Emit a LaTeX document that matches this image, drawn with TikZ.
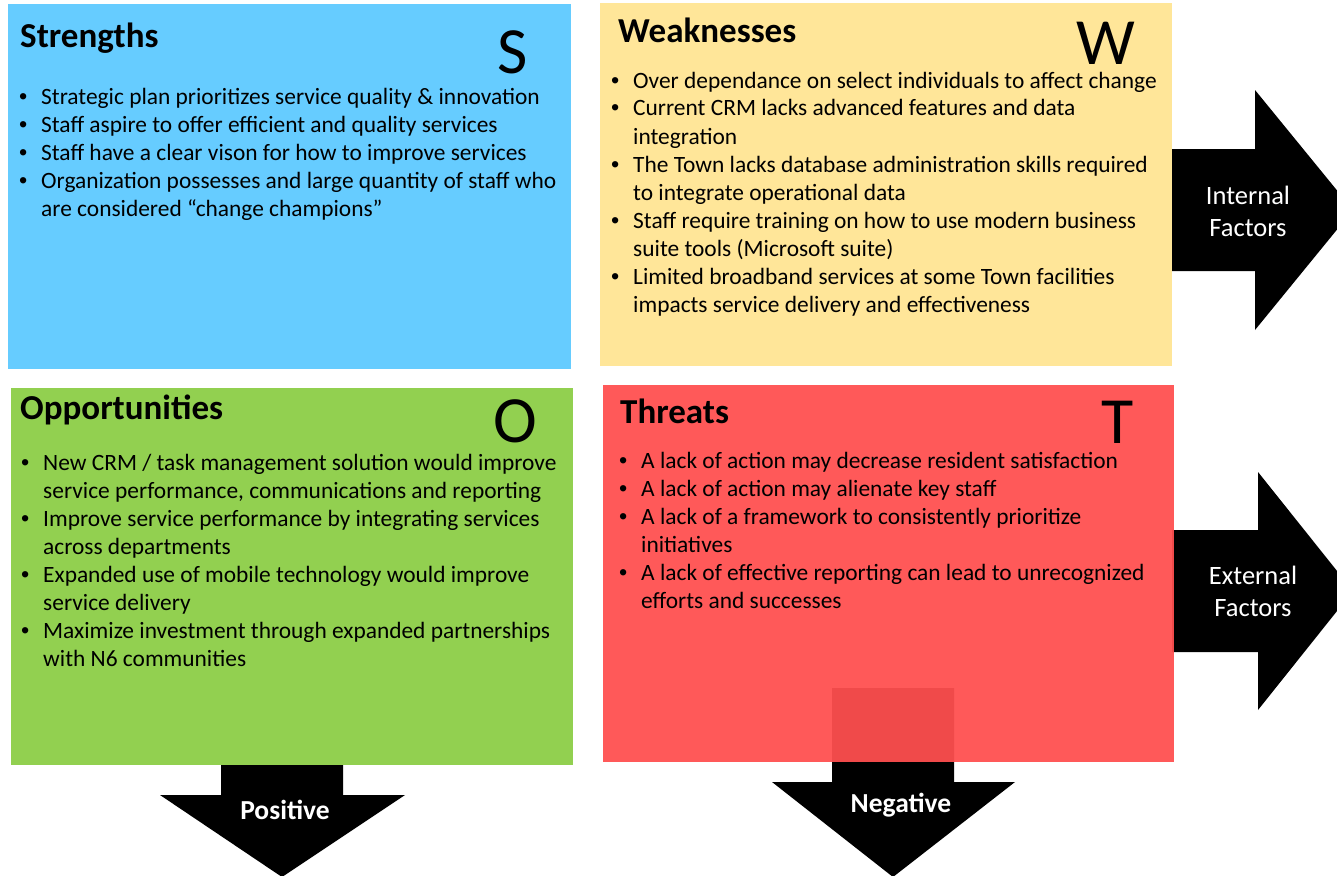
\documentclass[tikz,border=0pt]{standalone}
\usepackage{fontspec}
\setmainfont{Carlito}
\newfontfamily\bulletfont{Liberation Sans}
\usepackage{array}
\definecolor{sblue}{RGB}{102,204,255}
\definecolor{wyellow}{RGB}{255,230,153}
\definecolor{ogreen}{RGB}{146,208,80}
\definecolor{tred}{RGB}{255,79,79}
\newcommand{\itemrows}[1]{\begin{tabular}[t]{@{}p{22pt}@{}l@{}}#1\end{tabular}}
\newcommand{\bul}{{\bulletfont •}}
\begin{document}
\begin{tikzpicture}[x=1pt,y=-1pt,
  quad/.style={inner sep=0, outer sep=0, anchor=north west, draw=none},
  title/.style={inner sep=0, anchor=base west, font=\fontsize{35}{38}\selectfont\bfseries},
  letter/.style={inner sep=0, anchor=base, text height=42pt, text depth=0pt, font=\fontsize{66}{70}\selectfont},
  items/.style={inner sep=0, anchor=base west, font=\fontsize{23.4}{28}\selectfont},
  bigarrow/.style={fill=black},
  factor/.style={inner sep=0, align=center, text=white, font=\fontsize{26.5}{32}\selectfont},
  direction/.style={inner sep=0, text=white, font=\fontsize{27.5}{30}\selectfont\bfseries}
]
\useasboundingbox (0,0) rectangle (1337,875);

% direction arrows (behind the quadrants)
\fill[bigarrow] (1172,149) -- (1255,149) -- (1255,90) -- (1353,210) -- (1255,330) -- (1255,271) -- (1172,271) -- cycle;
\fill[bigarrow] (1172,530) -- (1258,530) -- (1258,472) -- (1353,591) -- (1258,710) -- (1258,652) -- (1172,652) -- cycle;
\fill[bigarrow] (221,760) -- (343,760) -- (343,795) -- (405,795) -- (282,877) -- (160,795) -- (221,795) -- cycle;
\fill[bigarrow] (832,688) -- (954,688) -- (954,782) -- (1015,782) -- (893,877) -- (772,782) -- (832,782) -- cycle;

% quadrants
\node[quad, fill=sblue, minimum width=563pt, minimum height=365pt] (sbox) at (8,4) {};
\node[quad, fill=wyellow, minimum width=572pt, minimum height=363pt] (wbox) at (600,3) {};
\node[quad, fill=ogreen, minimum width=562pt, minimum height=377pt] (obox) at (11,388) {};
\node[quad, fill=tred, fill opacity=0.94, minimum width=571pt, minimum height=377pt] (tbox) at (603,385) {};

% titles
\node[title] (stitle) at (20,48) {Strengths};
\node[title] (wtitle) at (618,43) {Weaknesses};
\node[title] (otitle) at (20,419) {Opportunities};
\node[title] (ttitle) at (620,423) {Threats};

% quadrant letters
\node[letter] (sletter) at (513,74) {S};
\node[letter] (wletter) at (1106,64) {W};
\node[letter] (oletter) at (515,442) {O};
\node[letter] (tletter) at (1118,443) {T};

% bullet lists
\node[items] (sitems) at (19,104) {\itemrows{
  \bul & Strategic plan prioritizes service quality \& innovation\\
  \bul & Staff aspire to offer efficient and quality services\\
  \bul & Staff have a clear vison for how to improve services\\
  \bul & Organization possesses and large quantity of staff who\\
       & are considered “change champions”}};

\node[items] (witems) at (611,88) {\itemrows{
  \bul & Over dependance on select individuals to affect change\\
  \bul & Current CRM lacks advanced features and data\\
       & integration\\
  \bul & The Town lacks database administration skills required\\
       & to integrate operational data\\
  \bul & Staff require training on how to use modern business\\
       & suite tools (Microsoft suite)\\
  \bul & Limited broadband services at some Town facilities\\
       & impacts service delivery and effectiveness}};

\node[items] (oitems) at (21,470) {\itemrows{
  \bul & New CRM / task management solution would improve\\
       & service performance, communications and reporting\\
  \bul & Improve service performance by integrating services\\
       & across departments\\
  \bul & Expanded use of mobile technology would improve\\
       & service delivery\\
  \bul & Maximize investment through expanded partnerships\\
       & with N6 communities}};

\node[items] (titems) at (619,468) {\itemrows{
  \bul & A lack of action may decrease resident satisfaction\\
  \bul & A lack of action may alienate key staff\\
  \bul & A lack of a framework to consistently prioritize\\
       & initiatives\\
  \bul & A lack of effective reporting can lead to unrecognized\\
       & efforts and successes}};

% arrow labels
\node[factor] (internal) at (1248,211) {Internal\\Factors};
\node[factor] (external) at (1253,591) {External\\Factors};
\node[direction] (positive) at (285,810) {Positive};
\node[direction] (negative) at (901,805) {Negative};
\end{tikzpicture}
\end{document}
